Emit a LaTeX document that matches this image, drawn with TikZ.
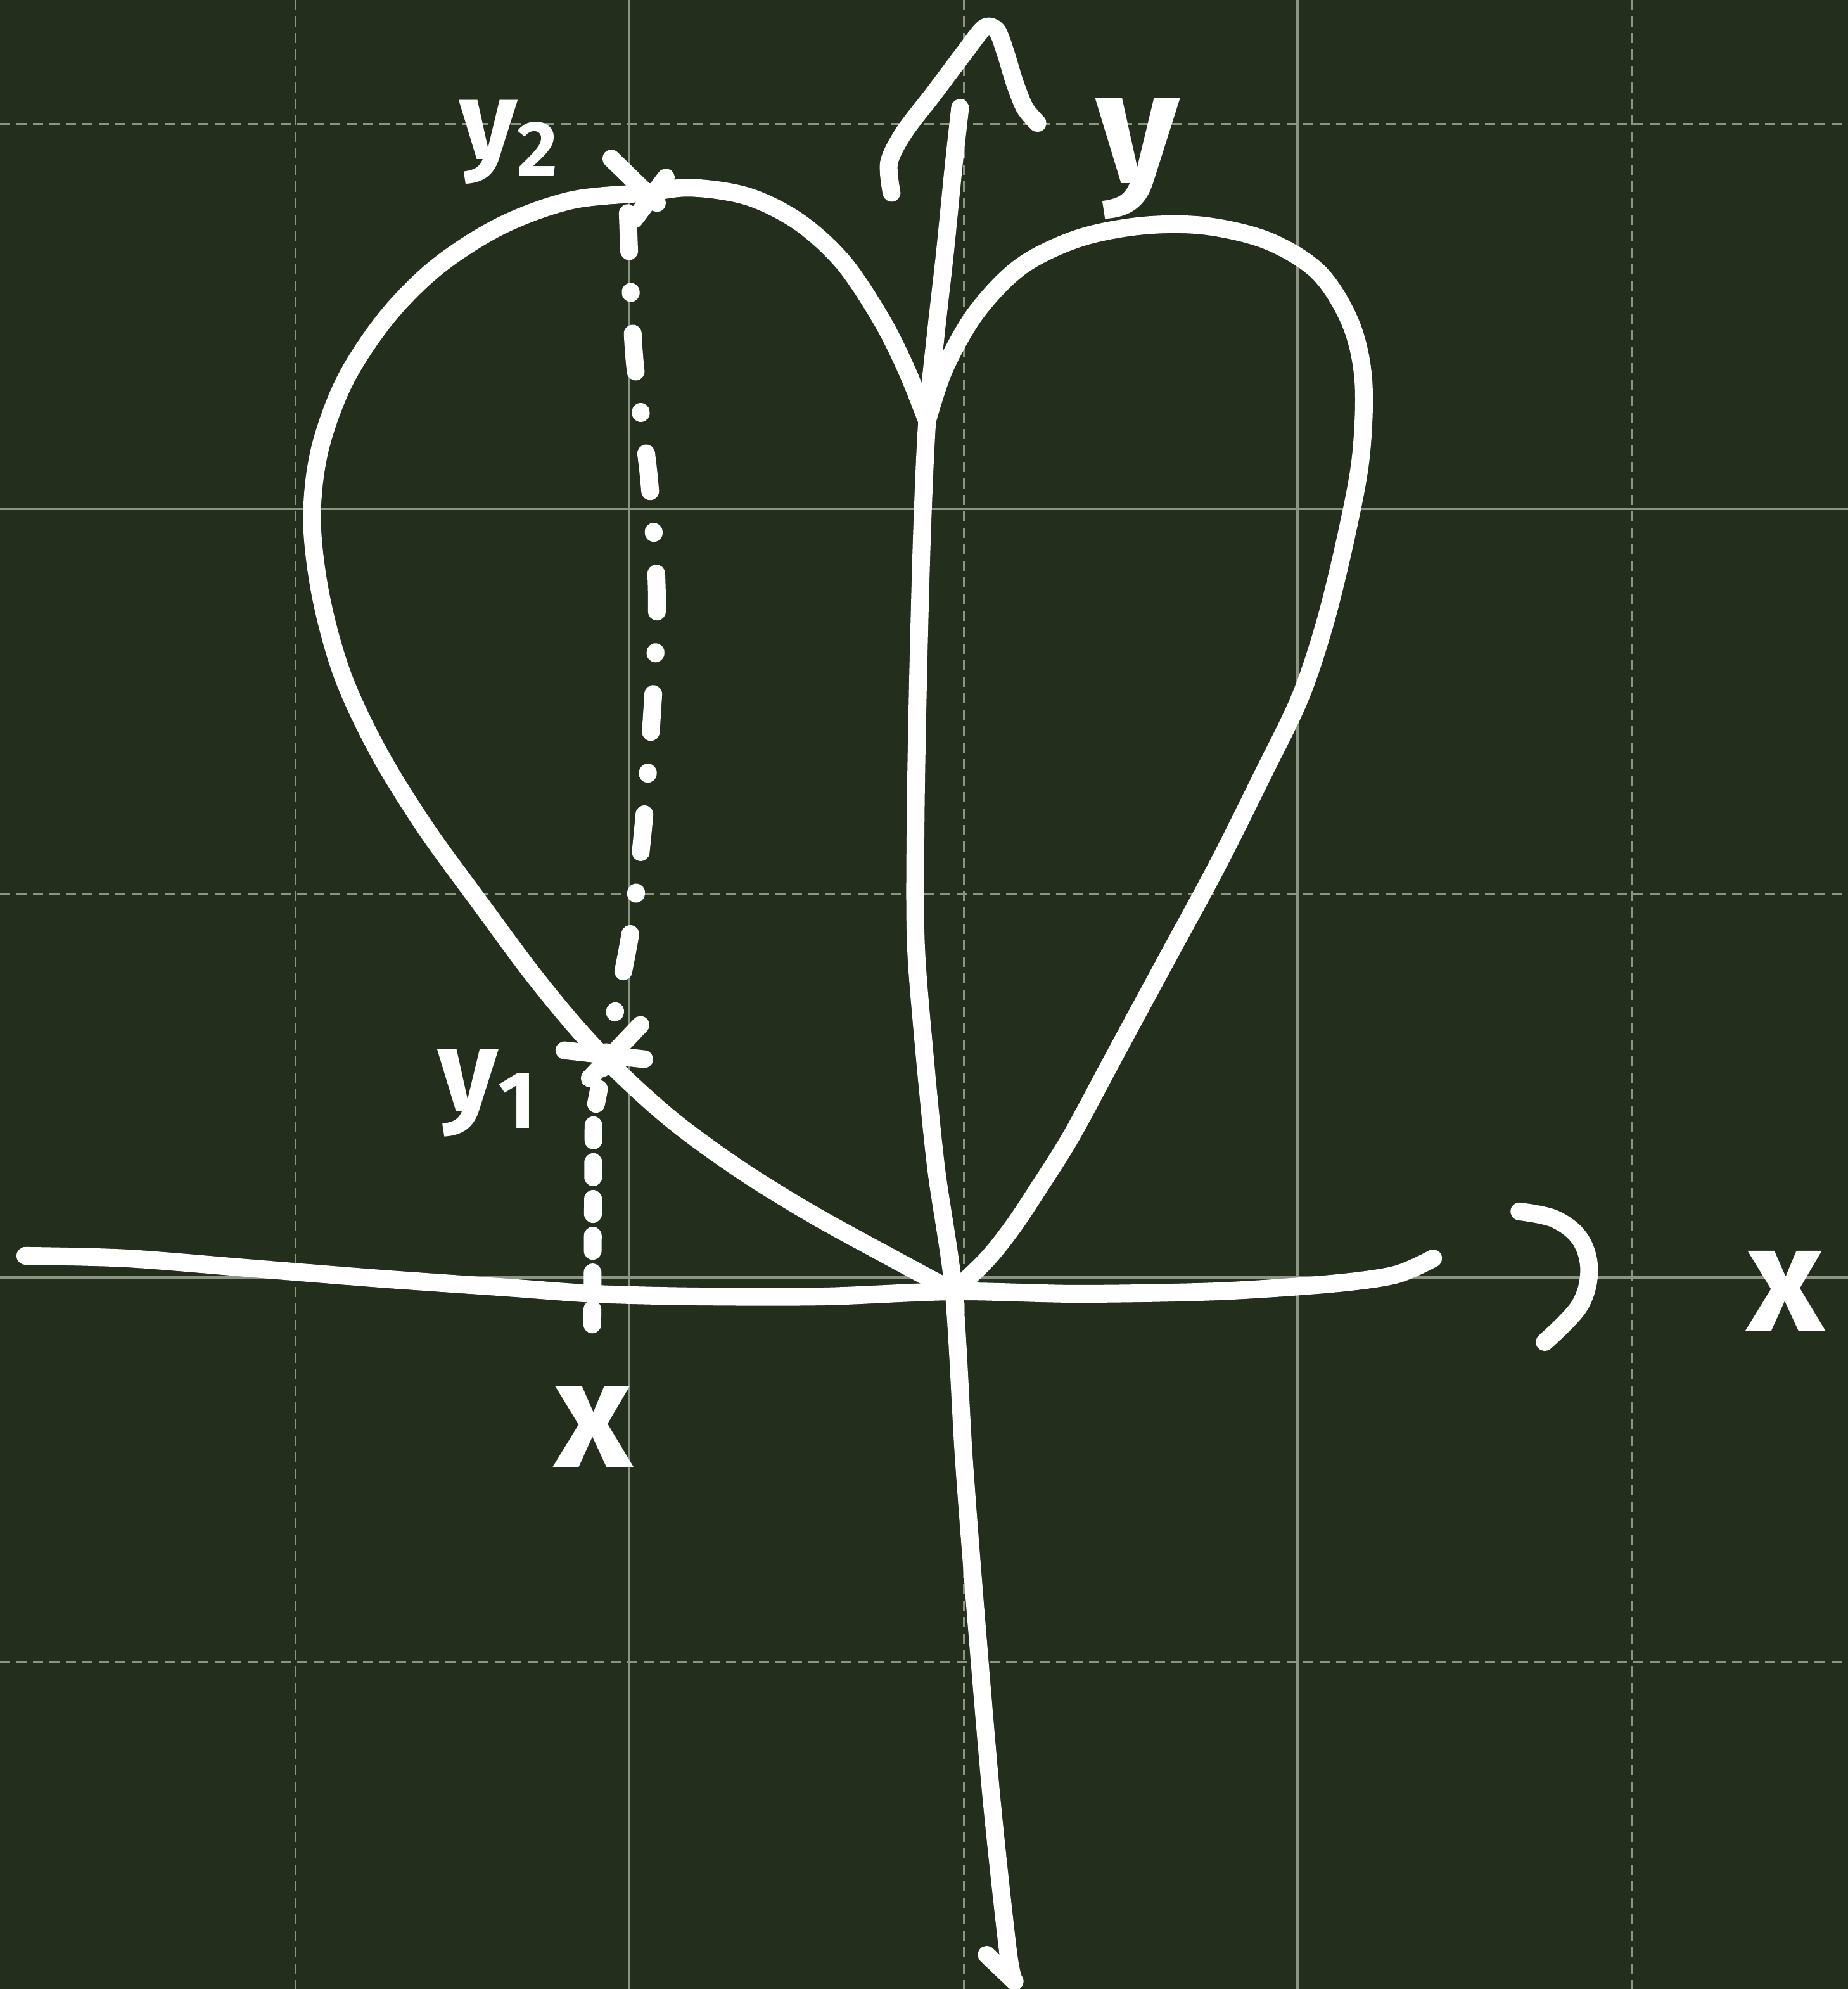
\documentclass[tikz,border=0pt]{standalone}
\usepackage{fontspec}
\setmainfont{Fira Sans}
\usepackage{tikz}
\definecolor{board}{HTML}{242E1D}
\definecolor{gridline}{HTML}{8C9484}

\begin{document}
\begin{tikzpicture}[x=0.01cm, y=-0.01cm,
  chalk/.style={white, line width=0.14cm, line cap=round, line join=round},
  major/.style={gridline, line width=0.5pt},
  minor/.style={gridline, line width=0.5pt, dash pattern=on 0.08cm off 0.05cm},
  dashdot/.style={chalk, dash pattern=on 0.3cm off 0.32cm on 0.01cm off 0.32cm},
  dense/.style={chalk, dash pattern=on 0.12cm off 0.17cm},
  lbl/.style={text=white, font=\bfseries, inner sep=0pt},
]

\fill[board] (0,0) rectangle (1457,1568);
\useasboundingbox (0,0) rectangle (1457,1568);

\draw[minor] (233,0) -- (233,1568);
\draw[major] (496,0) -- (496,1568);
\draw[minor] (760,0) -- (760,1568);
\draw[major] (1023,0) -- (1023,1568);
\draw[minor] (1287,0) -- (1287,1568);
\draw[minor] (0,98) -- (1457,98);
\draw[major] (0,401) -- (1457,401);
\draw[minor] (0,705) -- (1457,705);
\draw[major] (0,1007) -- (1457,1007);
\draw[minor] (0,1310) -- (1457,1310);

\coordinate (O) at (752,1018);
\coordinate (cusp) at (731,332);
\coordinate (ytop) at (757,85);
\coordinate (yend) at (800,1562);
\coordinate (P2) at (508,152);
\coordinate (P1) at (478,830);
\coordinate (F) at (467,1045);

\draw[chalk] plot[smooth, tension=0.55] coordinates {
  (O) (700,990) (640,957) (585,923) (535,887) (495,852) (458,814)
  (420,768) (380,714) (335,652) (298,592) (270,532) (253,470) (246,410)
  (252,355) (272,300) (305,250) (345,210) (395,178) (450,158) (P2)
  (545,148) (590,155) (630,175) (665,207) (695,252) (715,292) (cusp)};
\draw[chalk] plot[smooth, tension=0.55] coordinates {
  (cusp) (745,290) (770,246) (805,210) (850,188) (900,178) (950,178)
  (1000,190) (1040,215) (1065,255) (1075,300) (1073,360) (1062,420)
  (1045,490) (1025,550) (995,612) (960,682) (920,756) (880,830)
  (845,895) (818,938) (798,968) (778,993) (O)};

\draw[chalk] plot[smooth, tension=0.5] coordinates {
  (ytop) (752,130) (745,200) (738,262) (cusp) (727,420) (724,530)
  (722,640) (722,740) (728,820) (738,920) (O) (760,1150) (770,1280)
  (782,1420) (795,1540) (yend)};
\draw[chalk] (778,1541) -- (yend);
\draw[chalk] plot[smooth, tension=0.5] coordinates {
  (703,152) (701,128) (713,104) (736,74) (760,42) (776,22) (786,24)
  (793,42) (800,65) (808,85) (818,97)};

\draw[chalk] plot[smooth, tension=0.5] coordinates {
  (20,990) (100,992) (200,1000) (300,1008) (400,1015) (470,1020)
  (550,1022) (650,1022) (O) (850,1020) (960,1018) (1050,1012)
  (1100,1005) (1130,992)};
\draw[chalk] plot[smooth, tension=0.6] coordinates {
  (1198,955) (1226,961) (1246,977) (1253,1002) (1245,1030) (1218,1058)};

\draw[dashdot] plot[smooth, tension=0.5] coordinates {
  (495,168) (500,280) (512,380) (518,480) (510,620) (498,730) (P1)};
\draw[dense] (P1) -- (468,880) -- (F);

\draw[chalk] (482,125) -- (518,160);
\draw[chalk] (525,140) -- (500,173);
\draw[chalk] (445,828) -- (508,835);
\draw[chalk] (505,808) -- (465,850);

\node[lbl, font=\bfseries\fontsize{25}{28}\selectfont] (y2) at (402,112) {y\textsubscript{2}};
\node[lbl, font=\bfseries\fontsize{26}{28}\selectfont] (y1) at (385,862) {y\textsubscript{1}};
\node[lbl, font=\bfseries\fontsize{36}{40}\selectfont] (ylab) at (897,125) {y};
\node[lbl, font=\bfseries\fontsize{34}{40}\selectfont] (xlab) at (468,1125) {x};
\node[lbl, font=\bfseries\fontsize{34}{40}\selectfont] (xaxis) at (1408,1018) {x};

\end{tikzpicture}
\end{document}
